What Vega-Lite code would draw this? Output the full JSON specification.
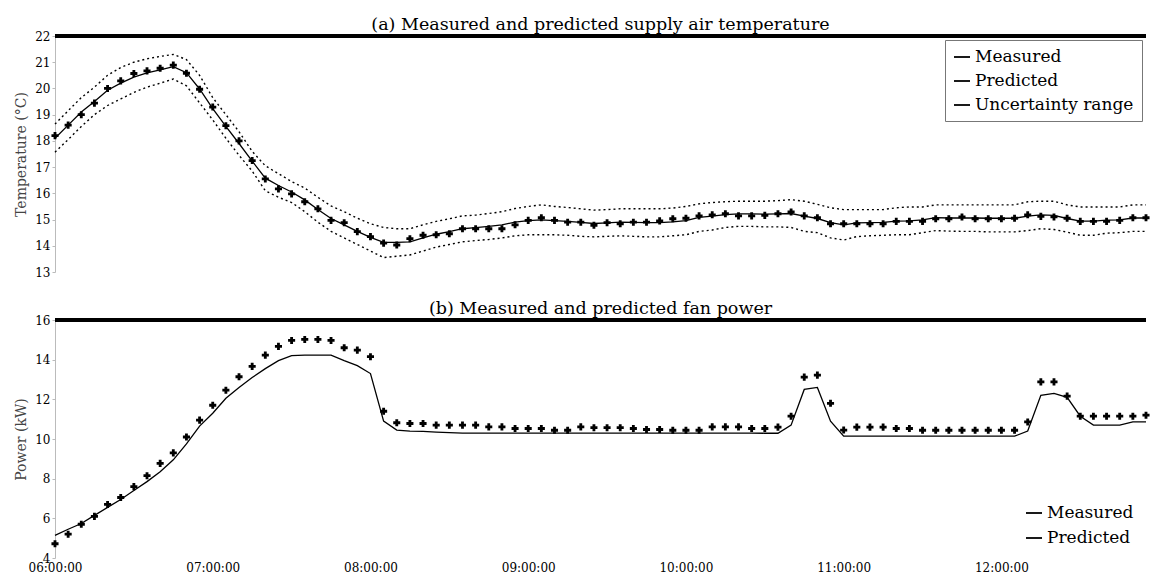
{
  "$schema": "https://vega.github.io/schema/vega-lite/v6.json",
  "background": "white",
  "padding": {"left": 14, "top": 15, "right": 10, "bottom": 4},
  "spacing": 21,
  "resolve": {"scale": {"color": "independent"}, "legend": {"color": "independent"}},
  "config": {
    "font": "DejaVu Serif",
    "view": {"stroke": null},
    "title": {"font": "DejaVu Serif", "fontSize": 17.5, "fontWeight": "normal", "color": "black", "offset": -3},
    "axis": {
      "labelFont": "DejaVu Serif", "labelFontSize": 12, "labelColor": "black",
      "titleFont": "DejaVu Serif", "titleFontSize": 14, "titleFontWeight": "normal", "titleColor": "#444",
      "grid": false
    },
    "legend": {"labelFont": "DejaVu Serif", "labelFontSize": 17, "labelColor": "black"}
  },
  "vconcat": [
    {
      "width": 1091,
      "height": 236,
      "title": "(a) Measured and predicted supply air temperature",
      "data": {
        "format": {"parse": {"t": "date:'%H:%M'"}},
        "values": [
          {"t": "06:00", "measured": 18.2, "predicted": 18.1, "upper": 18.64, "lower": 17.57},
          {"t": "06:05", "measured": 18.6, "predicted": 18.6, "upper": 19.15, "lower": 18.05},
          {"t": "06:10", "measured": 19.0, "predicted": 19.1, "upper": 19.65, "lower": 18.55},
          {"t": "06:15", "measured": 19.44, "predicted": 19.5, "upper": 20.05, "lower": 19.0},
          {"t": "06:20", "measured": 20.0, "predicted": 19.93, "upper": 20.5, "lower": 19.35},
          {"t": "06:25", "measured": 20.29, "predicted": 20.2, "upper": 20.8, "lower": 19.6},
          {"t": "06:30", "measured": 20.57, "predicted": 20.43, "upper": 21.0, "lower": 19.85},
          {"t": "06:35", "measured": 20.67, "predicted": 20.59, "upper": 21.13, "lower": 20.05},
          {"t": "06:40", "measured": 20.77, "predicted": 20.71, "upper": 21.22, "lower": 20.2},
          {"t": "06:45", "measured": 20.89, "predicted": 20.83, "upper": 21.3, "lower": 20.36},
          {"t": "06:50", "measured": 20.58, "predicted": 20.6, "upper": 21.1, "lower": 20.1},
          {"t": "06:55", "measured": 19.97, "predicted": 19.98, "upper": 20.5, "lower": 19.45},
          {"t": "07:00", "measured": 19.29, "predicted": 19.23, "upper": 19.65, "lower": 18.8},
          {"t": "07:05", "measured": 18.58, "predicted": 18.55, "upper": 19.0, "lower": 18.1},
          {"t": "07:10", "measured": 18.0, "predicted": 17.9, "upper": 18.35, "lower": 17.45},
          {"t": "07:15", "measured": 17.25, "predicted": 17.23, "upper": 17.6, "lower": 16.85},
          {"t": "07:20", "measured": 16.55, "predicted": 16.58, "upper": 17.05, "lower": 16.1},
          {"t": "07:25", "measured": 16.17, "predicted": 16.3, "upper": 16.75, "lower": 15.85},
          {"t": "07:30", "measured": 15.98, "predicted": 16.05, "upper": 16.45, "lower": 15.65},
          {"t": "07:35", "measured": 15.68, "predicted": 15.75, "upper": 16.2, "lower": 15.3},
          {"t": "07:40", "measured": 15.41, "predicted": 15.38, "upper": 15.85, "lower": 14.9},
          {"t": "07:45", "measured": 14.97, "predicted": 15.04, "upper": 15.52, "lower": 14.55},
          {"t": "07:50", "measured": 14.88, "predicted": 14.8, "upper": 15.3, "lower": 14.3},
          {"t": "07:55", "measured": 14.54, "predicted": 14.55, "upper": 15.05, "lower": 14.05},
          {"t": "08:00", "measured": 14.35, "predicted": 14.32, "upper": 14.84, "lower": 13.8},
          {"t": "08:05", "measured": 14.1, "predicted": 14.13, "upper": 14.7, "lower": 13.55},
          {"t": "08:10", "measured": 14.03, "predicted": 14.13, "upper": 14.65, "lower": 13.6},
          {"t": "08:15", "measured": 14.27, "predicted": 14.15, "upper": 14.65, "lower": 13.65},
          {"t": "08:20", "measured": 14.4, "predicted": 14.3, "upper": 14.8, "lower": 13.8},
          {"t": "08:25", "measured": 14.42, "predicted": 14.44, "upper": 14.93, "lower": 13.95},
          {"t": "08:30", "measured": 14.46, "predicted": 14.54, "upper": 15.03, "lower": 14.05},
          {"t": "08:35", "measured": 14.65, "predicted": 14.65, "upper": 15.14, "lower": 14.15},
          {"t": "08:40", "measured": 14.65, "predicted": 14.69, "upper": 15.17, "lower": 14.2},
          {"t": "08:45", "measured": 14.65, "predicted": 14.74, "upper": 15.23, "lower": 14.24},
          {"t": "08:50", "measured": 14.65, "predicted": 14.8, "upper": 15.3, "lower": 14.3},
          {"t": "08:55", "measured": 14.8, "predicted": 14.9, "upper": 15.42, "lower": 14.38},
          {"t": "09:00", "measured": 14.97, "predicted": 14.96, "upper": 15.5, "lower": 14.42},
          {"t": "09:05", "measured": 15.07, "predicted": 14.99, "upper": 15.56, "lower": 14.42},
          {"t": "09:10", "measured": 14.97, "predicted": 14.96, "upper": 15.5, "lower": 14.42},
          {"t": "09:15", "measured": 14.9, "predicted": 14.93, "upper": 15.46, "lower": 14.4},
          {"t": "09:20", "measured": 14.9, "predicted": 14.89, "upper": 15.41, "lower": 14.36},
          {"t": "09:25", "measured": 14.78, "predicted": 14.85, "upper": 15.36, "lower": 14.34},
          {"t": "09:30", "measured": 14.88, "predicted": 14.87, "upper": 15.38, "lower": 14.36},
          {"t": "09:35", "measured": 14.84, "predicted": 14.9, "upper": 15.41, "lower": 14.38},
          {"t": "09:40", "measured": 14.9, "predicted": 14.89, "upper": 15.41, "lower": 14.36},
          {"t": "09:45", "measured": 14.9, "predicted": 14.88, "upper": 15.41, "lower": 14.34},
          {"t": "09:50", "measured": 14.95, "predicted": 14.88, "upper": 15.41, "lower": 14.34},
          {"t": "09:55", "measured": 15.03, "predicted": 14.91, "upper": 15.44, "lower": 14.38},
          {"t": "10:00", "measured": 15.05, "predicted": 14.96, "upper": 15.5, "lower": 14.42},
          {"t": "10:05", "measured": 15.14, "predicted": 15.08, "upper": 15.6, "lower": 14.55},
          {"t": "10:10", "measured": 15.18, "predicted": 15.13, "upper": 15.65, "lower": 14.6},
          {"t": "10:15", "measured": 15.22, "predicted": 15.19, "upper": 15.68, "lower": 14.7},
          {"t": "10:20", "measured": 15.14, "predicted": 15.22, "upper": 15.7, "lower": 14.74},
          {"t": "10:25", "measured": 15.14, "predicted": 15.22, "upper": 15.7, "lower": 14.74},
          {"t": "10:30", "measured": 15.16, "predicted": 15.21, "upper": 15.7, "lower": 14.72},
          {"t": "10:35", "measured": 15.22, "predicted": 15.22, "upper": 15.72, "lower": 14.72},
          {"t": "10:40", "measured": 15.29, "predicted": 15.23, "upper": 15.76, "lower": 14.7},
          {"t": "10:45", "measured": 15.14, "predicted": 15.13, "upper": 15.7, "lower": 14.55},
          {"t": "10:50", "measured": 15.07, "predicted": 15.04, "upper": 15.58, "lower": 14.5},
          {"t": "10:55", "measured": 14.84, "predicted": 14.88, "upper": 15.45, "lower": 14.3},
          {"t": "11:00", "measured": 14.84, "predicted": 14.8, "upper": 15.38, "lower": 14.22},
          {"t": "11:05", "measured": 14.84, "predicted": 14.87, "upper": 15.38, "lower": 14.35},
          {"t": "11:10", "measured": 14.84, "predicted": 14.88, "upper": 15.38, "lower": 14.38},
          {"t": "11:15", "measured": 14.84, "predicted": 14.89, "upper": 15.38, "lower": 14.4},
          {"t": "11:20", "measured": 14.93, "predicted": 14.94, "upper": 15.45, "lower": 14.42},
          {"t": "11:25", "measured": 14.93, "predicted": 14.95, "upper": 15.48, "lower": 14.42},
          {"t": "11:30", "measured": 14.93, "predicted": 14.99, "upper": 15.48, "lower": 14.5},
          {"t": "11:35", "measured": 15.03, "predicted": 15.07, "upper": 15.56, "lower": 14.58},
          {"t": "11:40", "measured": 15.03, "predicted": 15.06, "upper": 15.56, "lower": 14.56},
          {"t": "11:45", "measured": 15.1, "predicted": 15.06, "upper": 15.56, "lower": 14.55},
          {"t": "11:50", "measured": 15.03, "predicted": 15.06, "upper": 15.56, "lower": 14.55},
          {"t": "11:55", "measured": 15.03, "predicted": 15.05, "upper": 15.56, "lower": 14.53},
          {"t": "12:00", "measured": 15.03, "predicted": 15.05, "upper": 15.56, "lower": 14.53},
          {"t": "12:05", "measured": 15.05, "predicted": 15.05, "upper": 15.56, "lower": 14.53},
          {"t": "12:10", "measured": 15.18, "predicted": 15.13, "upper": 15.68, "lower": 14.58},
          {"t": "12:15", "measured": 15.12, "predicted": 15.18, "upper": 15.7, "lower": 14.65},
          {"t": "12:20", "measured": 15.1, "predicted": 15.16, "upper": 15.7, "lower": 14.62},
          {"t": "12:25", "measured": 15.05, "predicted": 15.04, "upper": 15.56, "lower": 14.52},
          {"t": "12:30", "measured": 14.93, "predicted": 14.94, "upper": 15.48, "lower": 14.4},
          {"t": "12:35", "measured": 14.93, "predicted": 14.94, "upper": 15.48, "lower": 14.4},
          {"t": "12:40", "measured": 14.93, "predicted": 14.98, "upper": 15.48, "lower": 14.48},
          {"t": "12:45", "measured": 14.97, "predicted": 14.99, "upper": 15.48, "lower": 14.5},
          {"t": "12:50", "measured": 15.07, "predicted": 15.06, "upper": 15.56, "lower": 14.55},
          {"t": "12:55", "measured": 15.07, "predicted": 15.06, "upper": 15.56, "lower": 14.55}
        ]
      },
      "layer": [
        {
          "mark": {"type": "rule", "strokeWidth": 2.5, "color": "black"},
          "encoding": {
            "y": {
              "datum": 22, "type": "quantitative", "title": "Temperature (°C)",
              "scale": {"domain": [13, 22], "nice": false, "zero": false},
              "axis": {"values": [13, 14, 15, 16, 17, 18, 19, 20, 21, 22], "domainColor": "#bbb", "tickColor": "#bbb", "tickSize": 3, "labelPadding": 2, "titlePadding": 6}
            }
          }
        },
        {
          "mark": {"type": "line", "strokeDash": [2, 3], "strokeWidth": 1.4},
          "encoding": {
            "x": {"field": "t", "type": "temporal", "scale": {"nice": false}, "axis": null},
            "y": {
              "field": "upper", "type": "quantitative", "title": "Temperature (°C)",
              "axis": {"values": [13, 14, 15, 16, 17, 18, 19, 20, 21, 22], "domainColor": "#bbb", "tickColor": "#bbb", "tickSize": 3, "labelPadding": 2, "titlePadding": 6}
            },
            "color": {"datum": "Uncertainty range"}
          }
        },
        {
          "mark": {"type": "line", "strokeDash": [2, 3], "strokeWidth": 1.4},
          "encoding": {
            "x": {"field": "t", "type": "temporal", "scale": {"nice": false}, "axis": null},
            "y": {
              "field": "lower", "type": "quantitative", "title": "Temperature (°C)",
              "axis": {"values": [13, 14, 15, 16, 17, 18, 19, 20, 21, 22], "domainColor": "#bbb", "tickColor": "#bbb", "tickSize": 3, "labelPadding": 2, "titlePadding": 6}
            },
            "color": {"datum": "Uncertainty range"}
          }
        },
        {
          "mark": {"type": "line", "strokeWidth": 1.3},
          "encoding": {
            "x": {"field": "t", "type": "temporal", "scale": {"nice": false}, "axis": null},
            "y": {
              "field": "predicted", "type": "quantitative", "title": "Temperature (°C)",
              "axis": {"values": [13, 14, 15, 16, 17, 18, 19, 20, 21, 22], "domainColor": "#bbb", "tickColor": "#bbb", "tickSize": 3, "labelPadding": 2, "titlePadding": 6}
            },
            "color": {"datum": "Predicted"}
          }
        },
        {
          "mark": {"type": "point", "shape": "cross", "size": 50, "filled": true, "opacity": 1},
          "encoding": {
            "x": {"field": "t", "type": "temporal", "scale": {"nice": false}, "axis": null},
            "y": {
              "field": "measured", "type": "quantitative", "title": "Temperature (°C)",
              "axis": {"values": [13, 14, 15, 16, 17, 18, 19, 20, 21, 22], "domainColor": "#bbb", "tickColor": "#bbb", "tickSize": 3, "labelPadding": 2, "titlePadding": 6}
            },
            "color": {
              "datum": "Measured",
              "scale": {"domain": ["Measured", "Predicted", "Uncertainty range"], "range": ["black", "black", "black"]},
              "legend": {
                "title": null, "orient": "top-right", "offset": 4, "padding": 8, "rowPadding": 7,
                "strokeColor": "#777", "fillColor": "white", "symbolSize": 256, "symbolStrokeWidth": 1.8
              }
            }
          }
        }
      ]
    },
    {
      "width": 1091,
      "height": 238,
      "title": "(b) Measured and predicted fan power",
      "data": {
        "format": {"parse": {"t": "date:'%H:%M'"}},
        "values": [
          {"t": "06:00", "measured": 4.72, "predicted": 5.14},
          {"t": "06:05", "measured": 5.2, "predicted": 5.45},
          {"t": "06:10", "measured": 5.7, "predicted": 5.74},
          {"t": "06:15", "measured": 6.1, "predicted": 6.15},
          {"t": "06:20", "measured": 6.7, "predicted": 6.55},
          {"t": "06:25", "measured": 7.05, "predicted": 6.95},
          {"t": "06:30", "measured": 7.6, "predicted": 7.4},
          {"t": "06:35", "measured": 8.15, "predicted": 7.85},
          {"t": "06:40", "measured": 8.77, "predicted": 8.35},
          {"t": "06:45", "measured": 9.3, "predicted": 8.95},
          {"t": "06:50", "measured": 10.1, "predicted": 9.75},
          {"t": "06:55", "measured": 10.95, "predicted": 10.65},
          {"t": "07:00", "measured": 11.7, "predicted": 11.3},
          {"t": "07:05", "measured": 12.46, "predicted": 12.05},
          {"t": "07:10", "measured": 13.14, "predicted": 12.6},
          {"t": "07:15", "measured": 13.66, "predicted": 13.1},
          {"t": "07:20", "measured": 14.23, "predicted": 13.55},
          {"t": "07:25", "measured": 14.67, "predicted": 13.95},
          {"t": "07:30", "measured": 14.97, "predicted": 14.2},
          {"t": "07:35", "measured": 15.02, "predicted": 14.23},
          {"t": "07:40", "measured": 15.02, "predicted": 14.23},
          {"t": "07:45", "measured": 14.97, "predicted": 14.23},
          {"t": "07:50", "measured": 14.6, "predicted": 13.95},
          {"t": "07:55", "measured": 14.48, "predicted": 13.7},
          {"t": "08:00", "measured": 14.15, "predicted": 13.3},
          {"t": "08:05", "measured": 11.4, "predicted": 10.9},
          {"t": "08:10", "measured": 10.82, "predicted": 10.45},
          {"t": "08:15", "measured": 10.78, "predicted": 10.4},
          {"t": "08:20", "measured": 10.78, "predicted": 10.38},
          {"t": "08:25", "measured": 10.7, "predicted": 10.35},
          {"t": "08:30", "measured": 10.7, "predicted": 10.32},
          {"t": "08:35", "measured": 10.7, "predicted": 10.3},
          {"t": "08:40", "measured": 10.7, "predicted": 10.3},
          {"t": "08:45", "measured": 10.61, "predicted": 10.3},
          {"t": "08:50", "measured": 10.61, "predicted": 10.3},
          {"t": "08:55", "measured": 10.53, "predicted": 10.3},
          {"t": "09:00", "measured": 10.53, "predicted": 10.3},
          {"t": "09:05", "measured": 10.53, "predicted": 10.3},
          {"t": "09:10", "measured": 10.44, "predicted": 10.3},
          {"t": "09:15", "measured": 10.44, "predicted": 10.3},
          {"t": "09:20", "measured": 10.61, "predicted": 10.3},
          {"t": "09:25", "measured": 10.57, "predicted": 10.3},
          {"t": "09:30", "measured": 10.57, "predicted": 10.3},
          {"t": "09:35", "measured": 10.57, "predicted": 10.3},
          {"t": "09:40", "measured": 10.53, "predicted": 10.3},
          {"t": "09:45", "measured": 10.48, "predicted": 10.3},
          {"t": "09:50", "measured": 10.48, "predicted": 10.3},
          {"t": "09:55", "measured": 10.44, "predicted": 10.3},
          {"t": "10:00", "measured": 10.44, "predicted": 10.3},
          {"t": "10:05", "measured": 10.44, "predicted": 10.3},
          {"t": "10:10", "measured": 10.61, "predicted": 10.3},
          {"t": "10:15", "measured": 10.61, "predicted": 10.3},
          {"t": "10:20", "measured": 10.61, "predicted": 10.3},
          {"t": "10:25", "measured": 10.53, "predicted": 10.3},
          {"t": "10:30", "measured": 10.53, "predicted": 10.29},
          {"t": "10:35", "measured": 10.6, "predicted": 10.29},
          {"t": "10:40", "measured": 11.15, "predicted": 10.7},
          {"t": "10:45", "measured": 13.12, "predicted": 12.5},
          {"t": "10:50", "measured": 13.22, "predicted": 12.6},
          {"t": "10:55", "measured": 11.8, "predicted": 10.9},
          {"t": "11:00", "measured": 10.45, "predicted": 10.14},
          {"t": "11:05", "measured": 10.6, "predicted": 10.14},
          {"t": "11:10", "measured": 10.6, "predicted": 10.14},
          {"t": "11:15", "measured": 10.6, "predicted": 10.14},
          {"t": "11:20", "measured": 10.53, "predicted": 10.14},
          {"t": "11:25", "measured": 10.53, "predicted": 10.14},
          {"t": "11:30", "measured": 10.44, "predicted": 10.14},
          {"t": "11:35", "measured": 10.44, "predicted": 10.14},
          {"t": "11:40", "measured": 10.44, "predicted": 10.14},
          {"t": "11:45", "measured": 10.44, "predicted": 10.14},
          {"t": "11:50", "measured": 10.44, "predicted": 10.14},
          {"t": "11:55", "measured": 10.44, "predicted": 10.14},
          {"t": "12:00", "measured": 10.44, "predicted": 10.14},
          {"t": "12:05", "measured": 10.44, "predicted": 10.14},
          {"t": "12:10", "measured": 10.86, "predicted": 10.4},
          {"t": "12:15", "measured": 12.88, "predicted": 12.2},
          {"t": "12:20", "measured": 12.88, "predicted": 12.3},
          {"t": "12:25", "measured": 12.16, "predicted": 12.1},
          {"t": "12:30", "measured": 11.15, "predicted": 11.15},
          {"t": "12:35", "measured": 11.15, "predicted": 10.7},
          {"t": "12:40", "measured": 11.15, "predicted": 10.7},
          {"t": "12:45", "measured": 11.15, "predicted": 10.7},
          {"t": "12:50", "measured": 11.15, "predicted": 10.86},
          {"t": "12:55", "measured": 11.2, "predicted": 10.86}
        ]
      },
      "layer": [
        {
          "mark": {"type": "rule", "strokeWidth": 2.5, "color": "black"},
          "encoding": {
            "y": {
              "datum": 16, "type": "quantitative", "title": "Power (kW)",
              "scale": {"domain": [4, 16], "nice": false, "zero": false},
              "axis": {"values": [4, 6, 8, 10, 12, 14, 16], "domainColor": "#bbb", "tickColor": "#bbb", "tickSize": 3, "labelPadding": 2, "titlePadding": 6}
            }
          }
        },
        {
          "mark": {"type": "line", "strokeWidth": 1.3, "color": "#222"},
          "encoding": {
            "x": {"field": "t", "type": "temporal", "scale": {"nice": false}, "axis": {"format": "%H:%M:%S", "tickCount": 7, "labelFlush": false, "labelOverlap": false, "domain": false, "ticks": false, "labelPadding": 4, "title": null}},
            "y": {
              "field": "predicted", "type": "quantitative", "title": "Power (kW)",
              "axis": {"values": [4, 6, 8, 10, 12, 14, 16], "domainColor": "#bbb", "tickColor": "#bbb", "tickSize": 3, "labelPadding": 2, "titlePadding": 6}
            },
            "color": {"datum": "Predicted"}
          }
        },
        {
          "mark": {"type": "point", "shape": "cross", "size": 50, "filled": true, "opacity": 1},
          "encoding": {
            "x": {"field": "t", "type": "temporal", "scale": {"nice": false}, "axis": {"format": "%H:%M:%S", "tickCount": 7, "labelFlush": false, "labelOverlap": false, "domain": false, "ticks": false, "labelPadding": 4, "title": null}},
            "y": {
              "field": "measured", "type": "quantitative", "title": "Power (kW)",
              "axis": {"values": [4, 6, 8, 10, 12, 14, 16], "domainColor": "#bbb", "tickColor": "#bbb", "tickSize": 3, "labelPadding": 2, "titlePadding": 6}
            },
            "color": {
              "datum": "Measured",
              "scale": {"domain": ["Measured", "Predicted"], "range": ["black", "black"]},
              "legend": {"title": null, "orient": "bottom-right", "offset": 4, "padding": 8, "rowPadding": 8, "symbolSize": 256, "symbolStrokeWidth": 1.8}
            }
          }
        }
      ]
    }
  ]
}
